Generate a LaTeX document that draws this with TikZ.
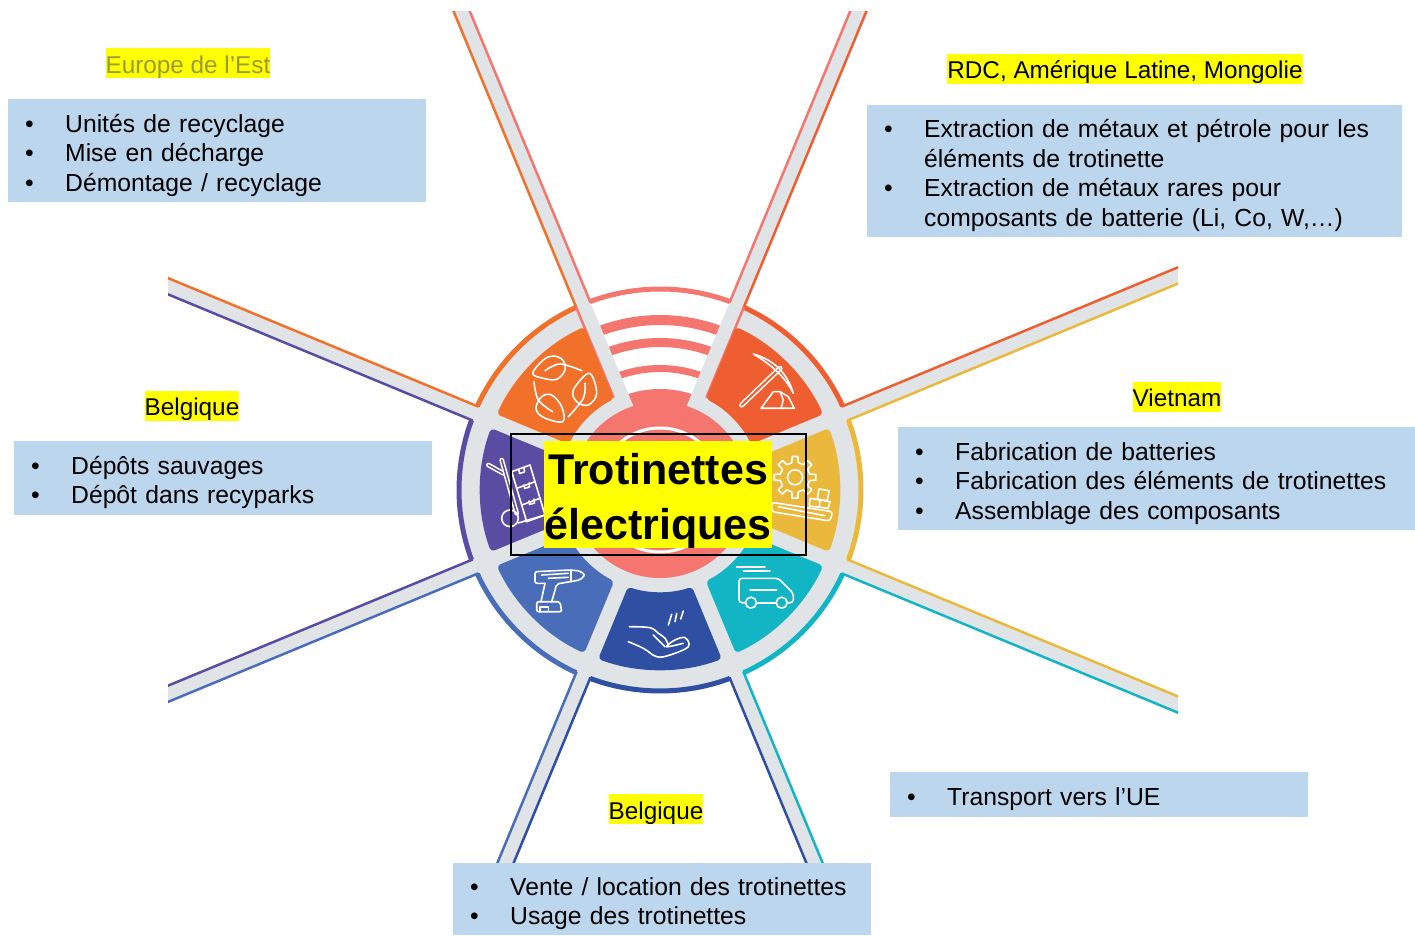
\documentclass[tikz,border=0pt]{standalone}
\usepackage{fontspec}
\setmainfont{Liberation Sans}
\definecolor{ringgray}{HTML}{E0E4E6}
\definecolor{boxblue}{HTML}{BCD6EE}
\definecolor{salmon}{HTML}{F4766F}
\definecolor{orangeseg}{HTML}{F1702A}
\definecolor{redseg}{HTML}{EF5E30}
\definecolor{yellowseg}{HTML}{EAB93C}
\definecolor{tealseg}{HTML}{12B5C4}
\definecolor{navyseg}{HTML}{2F4FA2}
\definecolor{steelseg}{HTML}{4A6DB9}
\definecolor{purpleseg}{HTML}{5A4BA3}
\definecolor{olivetext}{HTML}{9A9A3C}
\definecolor{surligne}{HTML}{FFFF00}
\newcommand{\puce}[1]{\makebox[40pt][l]{\textbullet}#1}
\newcommand{\suite}[1]{\hspace*{40pt}#1}
\newcommand{\sectorline}[2]{
	\begin{scope}[rotate=#1]
		\draw[color=#2, line width=2.5pt, miter limit=10] (620,7.5) -- (200.86,7.5) arc (2.14:42.86:201) -- ([shift={(-45:7.5)}]45:620);
		\draw[color=#2, line width=5pt] (2.14:201) arc (2.14:42.86:201);
	\end{scope}
}
\newcommand{\segment}[2]{
	\begin{scope}[rotate=#1]
		\fill[color=#2, rounded corners=4pt] (2.4:180) arc (2.4:42.6:180) -- (40.8:102) arc (40.8:4.2:102) -- cycle;
	\end{scope}
}
\tikzset{
	infobox/.style={fill=boxblue, anchor=north west, inner xsep=17pt, inner ysep=0pt, align=left, font=\fontsize{24.7}{29.5}\selectfont, execute at begin node={\rule{0pt}{27pt}}},
	placelabel/.style={fill=surligne, anchor=center, inner xsep=0pt, inner ysep=0pt, minimum height=30pt, text height=24pt, text depth=4pt, font=\fontsize{24.3}{29.5}\selectfont},
	icon/.style={draw=white, line width=1.6pt, line cap=round, line join=round}
}
\begin{document}
\begin{tikzpicture}[x=1pt, y=1pt]
	\useasboundingbox (0,0) rectangle (1415,935);
	\begin{scope}[shift={(660,445)}]
		% rays and ring
		\fill[ringgray] (0,0) circle (200);
		\fill[white] (0,0) -- (67.5:199) arc (67.5:112.5:199) -- cycle;
		\foreach \r/\w in {170/10, 147.5/9, 121.5/7}
			\draw[salmon, line width=\w pt] (67.5:\r) arc (67.5:112.5:\r);
		\fill[salmon] (0,0) -- (67.5:101) arc (67.5:112.5:101) -- cycle;
		\begin{scope}
			\clip (-492,478) rectangle (518,-400);
			\foreach \a in {22.5,67.5,...,337.5}
				\draw[ringgray, line width=15pt] (0,0) -- (\a:620);
			\foreach \a/\c in {22.5/redseg, 67.5/salmon, 112.5/orangeseg, 157.5/purpleseg, 202.5/steelseg, 247.5/navyseg, 292.5/tealseg, 337.5/yellowseg}
				{\sectorline{\a}{\c}}
		\end{scope}
		\draw[salmon, line width=2.5pt] ([shift={(-22.5:7.5)}]67.5:103) -- ([shift={(-22.5:7.5)}]67.5:201);
		\draw[salmon, line width=2.5pt] ([shift={(22.5:-7.5)}]112.5:103) -- ([shift={(22.5:-7.5)}]112.5:201);
		\fill[salmon] (0,0) circle (88);
		\draw[white, line width=3pt] (0,0) circle (62);
		\foreach \a/\c in {22.5/redseg, 112.5/orangeseg, 157.5/purpleseg, 202.5/steelseg, 247.5/navyseg, 292.5/tealseg, 337.5/yellowseg}
			{\segment{\a}{\c}}
		% recycling
		\draw[icon] plot[smooth cycle, tension=0.6] coordinates {(-127.3,116.7) (-116.7,130) (-106.7,134) (-97.3,130) (-95,120) (-103.3,110.7) (-116.7,111.7)};
		\draw[icon] plot[smooth, tension=0.6] coordinates {(-115,119.3) (-100,126) (-78.3,119.3)};
		\draw[icon] plot[smooth cycle, tension=0.6] coordinates {(-70.7,116.7) (-86.7,100) (-83.3,88.3) (-71.7,85) (-63.3,96.7)};
		\draw[icon] plot[smooth, tension=0.6] coordinates {(-75,106.7) (-76.7,91.7) (-91.7,73.3)};
		\draw[icon] plot[smooth cycle, tension=0.6] coordinates {(-97.3,68.3) (-98.3,83.3) (-108.3,95) (-118.3,93.3) (-124,81.7) (-116.7,72.7)};
		\draw[icon] plot[smooth, tension=0.6] coordinates {(-126,108.3) (-121.7,90) (-107.3,78.3)};
		% pickaxe
		\draw[icon, double=redseg, double distance=2pt] (81.7,85) -- (120,121.7);
		\draw[icon] (93.3,136) .. controls (115,130) and (128,115) .. (133.3,96.7) .. controls (126,112) and (112,125) .. (93.3,136);
		\draw[icon] (101,81.7) -- (134.3,81.7) -- (128.3,93.3) -- (120,98.3) -- (113.3,98.3) -- cycle (120,98.3) -- (123.3,90) -- (121,81.7);
		% gear and conveyor
		\draw[icon] (135,12.7) circle (7.5);
		\draw[icon, shift={(135,12.7)}] (-12:15) \foreach \a in {0,45,...,315} { -- (\a-12:15) -- (\a-8:21) -- (\a+8:21) -- (\a+12:15)} -- cycle;
		\draw[icon, rounded corners=3pt] (111.7,-12.3) -- (172.7,-21.7) -- (170,-31) -- (111.7,-21.7) -- cycle;
		\draw[icon] (118.3,-16.7) -- (165,-25.7);
		\draw[icon] (150,-8.3) -- (170,-11.7) -- (168.3,-18.3) -- (149.3,-16) -- cycle (160,-10) -- (159.3,-17.3);
		\draw[icon] (159,1) -- (169,-0.7) -- (167.3,-10.7) -- (157.3,-9) -- cycle;
		% van
		\draw[icon, rounded corners=3pt] (85,-112.7) -- (79,-112.7) -- (79,-88.3) -- (118.3,-88.3) -- (133.3,-103.3) -- (133.3,-112.7) -- (127.2,-112.7);
		\draw[icon] (96.7,-112.7) -- (116.2,-112.7);
		\draw[icon] (91,-112.7) circle (5.5) (121.7,-112.7) circle (5.5);
		\draw[icon] (76.7,-77.3) -- (105,-77.3) (83.3,-81) -- (110,-81) (90,-100) -- (116.7,-100);
		% hand
		\draw[icon] plot[smooth, tension=0.6] coordinates {(-30.7,-136.7) (-10,-137.7) (-1.7,-143.3) (5,-148.3) (8.3,-155)};
		\draw[icon] (-6.7,-145) -- (5,-156.7);
		\draw[icon] plot[smooth, tension=0.6] coordinates {(-31.7,-151.7) (-16.7,-158.3) (-3.3,-166.7) (10,-165) (28.3,-156.7) (25,-147.7) (15,-150) (6.7,-156.7) (23.3,-153.3)};
		\draw[icon] (8.3,-135) -- (11.7,-124.3) (15,-131.7) -- (16.7,-123.3) (20.7,-129) -- (23.3,-121);
		% drill
		\draw[icon, rounded corners=2pt] (-115,-93.3) -- (-125,-93.3) -- (-125,-81.7) -- (-90,-80) -- (-80,-81) -- (-75,-85) -- (-80,-90) -- (-90,-91.7) -- (-103.3,-94) -- (-108.3,-111.7);
		\draw[icon] (-115,-93.3) -- (-119,-111.7);
		\draw[icon, rounded corners=2pt] (-123.3,-111.7) -- (-100,-111.7) -- (-98.3,-121.7) -- (-123.3,-121.7) -- cycle;
		\draw[icon] (-120,-121.7) -- (-120,-116.7) -- (-111.7,-116.7) -- (-111.7,-121.7);
		\draw[icon] (-118.3,-85) -- (-91.7,-83.3) (-111.7,-88.3) -- (-91.7,-87.3) (-89,-80) -- (-89,-91.7);
		% trolley
		\draw[icon, double=purpleseg, double distance=1.5pt] (-171.7,25) -- (-156.7,16.7);
		\draw[icon, double=purpleseg, double distance=1.5pt] (-158.3,30) -- (-143.3,-23.3);
		\draw[icon] (-150,-28.3) circle (8.3);
		\draw[icon] (-148.3,18.3) -- (-130,25) -- (-115,-25) -- (-133.3,-31.7) -- cycle;
		\draw[icon] (-143.3,1.7) -- (-125,8.3) (-138.3,-15) -- (-120,-8.3);
		\draw[icon] (-141.7,-33) -- (-115,-25);
		\draw[icon] (-141,20) -- (-140.5,16.5) -- (-135.5,18) -- (-136,22) (-136,5) -- (-135.5,1.5) -- (-130.5,3) -- (-131,7) (-131,-11) -- (-130.5,-14.5) -- (-125.5,-13) -- (-126,-9);
	\end{scope}
	% title
	\node[fill=surligne, inner sep=0pt, align=center, font=\fontsize{43}{55}\selectfont\bfseries] (titre) at (658,440.5) {\rule{0pt}{44pt}Trotinettes\\électriques};
	\node[draw=black, line width=1.3pt, minimum width=295pt, minimum height=121pt, inner sep=0pt] (cadre) at (658.5,440.5) {};
	% places
	\node[placelabel, text=olivetext] (est) at (188,871.5) {Europe de l’Est};
	\node[placelabel] (rdc) at (1125,866) {RDC, Amérique Latine, Mongolie};
	\node[placelabel] (vietnam) at (1177,538) {Vietnam};
	\node[placelabel] (belgiqueg) at (192,529) {Belgique};
	\node[placelabel] (belgiqueb) at (656,126) {Belgique};
	% text boxes
	\node[infobox, text width=384pt, minimum height=103pt] (fin) at (8,836) {\puce{Unités de recyclage}\\\puce{Mise en décharge}\\\puce{Démontage / recyclage}};
	\node[infobox, text width=501pt, minimum height=132pt] (extraction) at (867,830) {\puce{Extraction de métaux et pétrole pour les}\\\suite{éléments de trotinette}\\\puce{Extraction de métaux rares pour}\\\suite{composants de batterie (Li, Co, W,…)}};
	\node[infobox, text width=483pt, minimum height=103pt] (fabrication) at (898,508) {\puce{Fabrication de batteries}\\\puce{Fabrication des éléments de trotinettes}\\\puce{Assemblage des composants}};
	\node[infobox, text width=384pt, minimum height=74pt] (dechets) at (14,494) {\puce{Dépôts sauvages}\\\puce{Dépôt dans recyparks}};
	\node[infobox, text width=384pt, minimum height=45pt] (transport) at (890,163) {\puce{Transport vers l’UE}};
	\node[infobox, text width=384pt, minimum height=72pt] (usage) at (453,72) {\puce{Vente / location des trotinettes}\\\puce{Usage des trotinettes}};
\end{tikzpicture}
\end{document}
